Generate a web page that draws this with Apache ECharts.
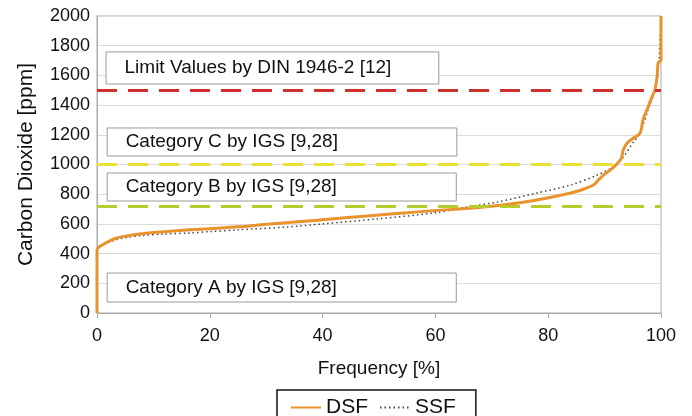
<!DOCTYPE html>
<html>
<head>
<meta charset="utf-8">
<script src="https://cdn.jsdelivr.net/npm/echarts@6/dist/echarts.min.js"></script>
<style>
  html, body { margin: 0; padding: 0; background: #fff; }
  #chart { width: 692px; height: 416px; }
</style>
</head>
<body>
<div id="chart"></div>
<script>
// cumulative frequency [%] vs CO2 [ppm]
const dsfFreq = [0, 0, 0.2, 1, 2, 3.5, 5.5, 7.6, 10, 13, 16.5, 20, 25, 30, 35, 40, 45, 50, 55, 60,
  66, 72, 78, 84, 86, 88, 89, 90, 91, 92.2, 93, 93.3, 94, 95, 96.3, 96.8, 97.7, 98.4, 98.9, 99.3,
  99.5, 100, 100]
const dsfCo2 = [0, 420, 440, 460, 480, 505, 520, 532, 542, 551, 560, 568, 580, 597, 612, 628, 644, 660, 675, 690,
  705, 727, 761, 808, 830, 862, 900, 935, 963, 1003, 1044, 1098, 1145, 1175, 1212, 1300, 1387, 1455, 1500, 1590,
  1684, 1704, 2000]

const ssfFreq = [0, 0, 0.3, 1, 2, 3.5, 5.5, 8, 12, 16.5, 20, 25, 33.7, 40, 50, 60, 65.6, 71, 78, 84,
  88.7, 91.5, 93.3, 95, 96.3, 97.7, 98.9, 99.5, 99.8, 100]
const ssfCo2 = [0, 420, 440, 458, 475, 495, 510, 522, 532, 539, 548, 560, 579, 600, 635, 675, 714, 747, 808, 862,
  929, 983, 1050, 1145, 1212, 1367, 1500, 1636, 1818, 2000]

// limit lines
const limitValues = [1500, 1000, 720]
const limitColors = ['#d0302b', '#e9e232', '#b7cc2c']

// annotation boxes: label, x from/to [%], y from/to [ppm]
const boxLabels = ['Limit Values by DIN 1946-2 [12]', 'Category C by IGS [9,28]', 'Category B by IGS [9,28]', 'Category A by IGS [9,28]']
const boxX = [[1.6, 60.6], [1.8, 63.8], [1.8, 63.7], [1.8, 63.7]]
const boxY = [[1758, 1542], [1246, 1057], [943, 754], [269, 74]]

function zip(xs, ys) {
  return xs.map((x, i) => [x, ys[i]])
}

const font = 'Liberation Sans, Arial, sans-serif'
const chart = echarts.init(document.getElementById('chart'))

chart.setOption({
  animation: false,
  textStyle: { fontFamily: font },
  grid: {
    left: 97,
    right: 31,
    top: 16,
    bottom: 103,
    show: true,
    borderColor: '#aaa',
    borderWidth: 1
  },
  legend: {
    left: 277,
    top: 390,
    padding: [7, 20, 20, 13],
    itemWidth: 30,
    itemHeight: 14,
    itemGap: 11,
    borderColor: '#111',
    borderWidth: 1.5,
    itemStyle: { opacity: 0 },
    textStyle: { fontSize: 21, color: '#111', fontFamily: font },
    data: ['DSF', 'SSF']
  },
  xAxis: {
    type: 'value',
    min: 0,
    max: 100,
    interval: 20,
    name: 'Frequency [%]',
    nameLocation: 'middle',
    nameGap: 46,
    nameTextStyle: { fontSize: 19, color: '#111' },
    axisLine: { lineStyle: { color: '#aaa' } },
    axisTick: { show: true, length: 5, lineStyle: { color: '#aaa' } },
    axisLabel: { fontSize: 18, color: '#111', margin: 14 },
    splitLine: { show: false }
  },
  yAxis: {
    type: 'value',
    min: 0,
    max: 2000,
    interval: 200,
    name: 'Carbon Dioxide [ppm]',
    nameLocation: 'middle',
    nameGap: 60,
    nameTextStyle: { fontSize: 21, color: '#111' },
    axisLine: { show: true, lineStyle: { color: '#aaa' } },
    axisTick: { show: false },
    axisLabel: { fontSize: 18, color: '#111', margin: 7, formatter: v => String(v) },
    splitLine: { lineStyle: { color: '#dcdcdc', width: 1 } }
  },
  series: [
    {
      name: 'boxes',
      type: 'line',
      data: [],
      silent: true,
      markArea: {
        silent: true,
        itemStyle: { color: '#fff', borderColor: '#9a9a9a', borderWidth: 1 },
        label: {
          position: 'insideLeft',
          distance: 19,
          fontSize: 19,
          color: '#111',
          fontFamily: font
        },
        data: boxLabels.map((name, i) => [
          { name: name, xAxis: boxX[i][0], yAxis: boxY[i][0] },
          { xAxis: boxX[i][1], yAxis: boxY[i][1] }
        ])
      },
      markLine: {
        silent: true,
        symbol: 'none',
        label: { show: false },
        data: limitValues.map((v, i) => ({
          yAxis: v,
          lineStyle: { color: limitColors[i], width: 3, type: [20, 11] }
        }))
      }
    },
    {
      name: 'SSF',
      type: 'line',
      data: zip(ssfFreq, ssfCo2),
      showSymbol: false,
      symbol: 'none',
      smooth: 0.3,
      z: 3,
      lineStyle: { color: '#444', width: 1.5, type: [1.5, 3] },
      itemStyle: { color: '#444' }
    },
    {
      name: 'DSF',
      type: 'line',
      data: zip(dsfFreq, dsfCo2),
      showSymbol: false,
      symbol: 'none',
      smooth: 0.3,
      z: 4,
      lineStyle: { color: '#e8932c', width: 3 },
      itemStyle: { color: '#e8932c' }
    }
  ]
})
</script>
</body>
</html>
